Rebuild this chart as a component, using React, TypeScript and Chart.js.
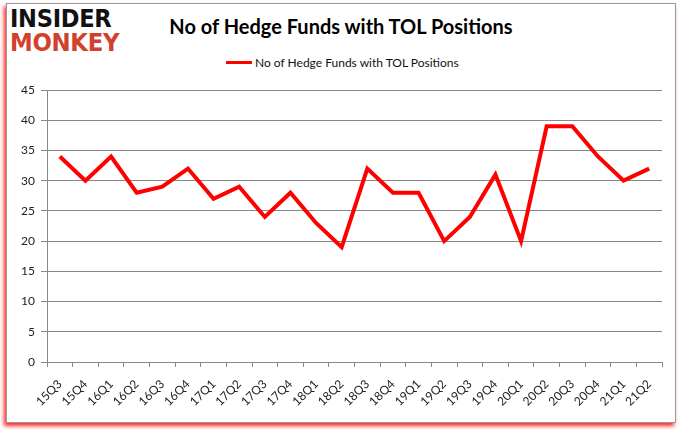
import React, { useEffect, useRef } from "react";
import { Chart, registerables } from "chart.js";

Chart.register(...registerables);

const categories = ["15Q3","15Q4","16Q1","16Q2","16Q3","16Q4","17Q1","17Q2","17Q3","17Q4","18Q1","18Q2","18Q3","18Q4","19Q1","19Q2","19Q3","19Q4","20Q1","20Q2","20Q3","20Q4","21Q1","21Q2"];
const hedgeFunds = [34,30,34,28,29,32,27,29,24,28,23,19,32,28,28,20,24,31,20,39,39,34,30,32];
const seriesLabel = "No of Hedge Funds with TOL Positions";
const titleText = "No of Hedge Funds with TOL Positions";

export default function App() {
  const ref = useRef<HTMLCanvasElement | null>(null);
  useEffect(() => {
    document.body.style.margin = "0";
    const ctx = ref.current!;
    const chart = new Chart(ctx, {
      type: "line",
      data: {
        labels: categories,
        datasets: [{
          label: seriesLabel,
          data: hedgeFunds,
          borderColor: "#ff0000",
          backgroundColor: "#ff0000",
          borderWidth: 4,
          pointRadius: 0,
          tension: 0,
        }],
      },
      options: {
        animation: false,
        responsive: false,
        maintainAspectRatio: false,
        layout: { padding: { left: 0, right: 18, top: 90, bottom: 0 } },
        plugins: { legend: { display: false }, title: { display: false }, tooltip: { enabled: false } },
        scales: {
          x: {
            offset: true,
            grid: { display: true, offset: true, drawOnChartArea: false, drawTicks: true, tickLength: 5, color: "#888" },
            border: { color: "#888" },
            ticks: { color: "#222", font: { family: "Lato, 'DejaVu Sans'", size: 12 }, maxRotation: 45, minRotation: 45, autoSkip: false, padding: 10 },
            afterFit: (s: any) => { s.height = 71; },
          },
          y: {
            min: 0, max: 45,
            grid: { color: "#888", tickLength: 6 },
            border: { color: "#888" },
            ticks: { stepSize: 5, color: "#222", font: { family: "Lato, 'DejaVu Sans'", size: 12 }, padding: 6 },
            afterFit: (s: any) => { s.width = 47; },
          },
        },
      },
    });
    return () => chart.destroy();
  }, []);

  return (
    <div style={{ position: "fixed", left: 0, top: 0, width: 680, height: 433, background: "#fff", overflow: "hidden" }}>
      <div style={{ position: "absolute", left: 6, top: 3, width: 668, height: 418, border: "1px solid #999", background: "#fff", boxShadow: "-2px 3px 4px rgba(255,0,0,0.85)" }} />
      <div style={{ position: "absolute", left: 10, top: 7, fontFamily: "'DejaVu Sans', sans-serif", fontWeight: 900, lineHeight: "24px", fontSize: 24, letterSpacing: -0.3 }}>
        <div style={{ color: "#111", transform: "scaleX(0.94)", transformOrigin: "left" }}>INSIDER</div>
        <div style={{ color: "#d2402e", transform: "scaleX(0.95)", transformOrigin: "left" }}>MONKEY</div>
      </div>
      <div style={{ position: "absolute", left: 0, width: 680, top: 14, textAlign: "center", fontFamily: "Lato, sans-serif", fontWeight: 700, fontSize: 20, color: "#000" }}>
        <span style={{ marginLeft: 2 }}>{titleText}</span>
      </div>
      <div style={{ position: "absolute", left: 226, top: 55, display: "flex", alignItems: "center", fontFamily: "Lato, sans-serif", fontSize: 12, color: "#111" }}>
        <div style={{ width: 26, height: 3, background: "#ff0000", marginRight: 3 }} />
        <span>{seriesLabel}</span>
      </div>
      <canvas ref={ref} width={680} height={433} style={{ position: "absolute", left: 0, top: 0 }} />
    </div>
  );
}
